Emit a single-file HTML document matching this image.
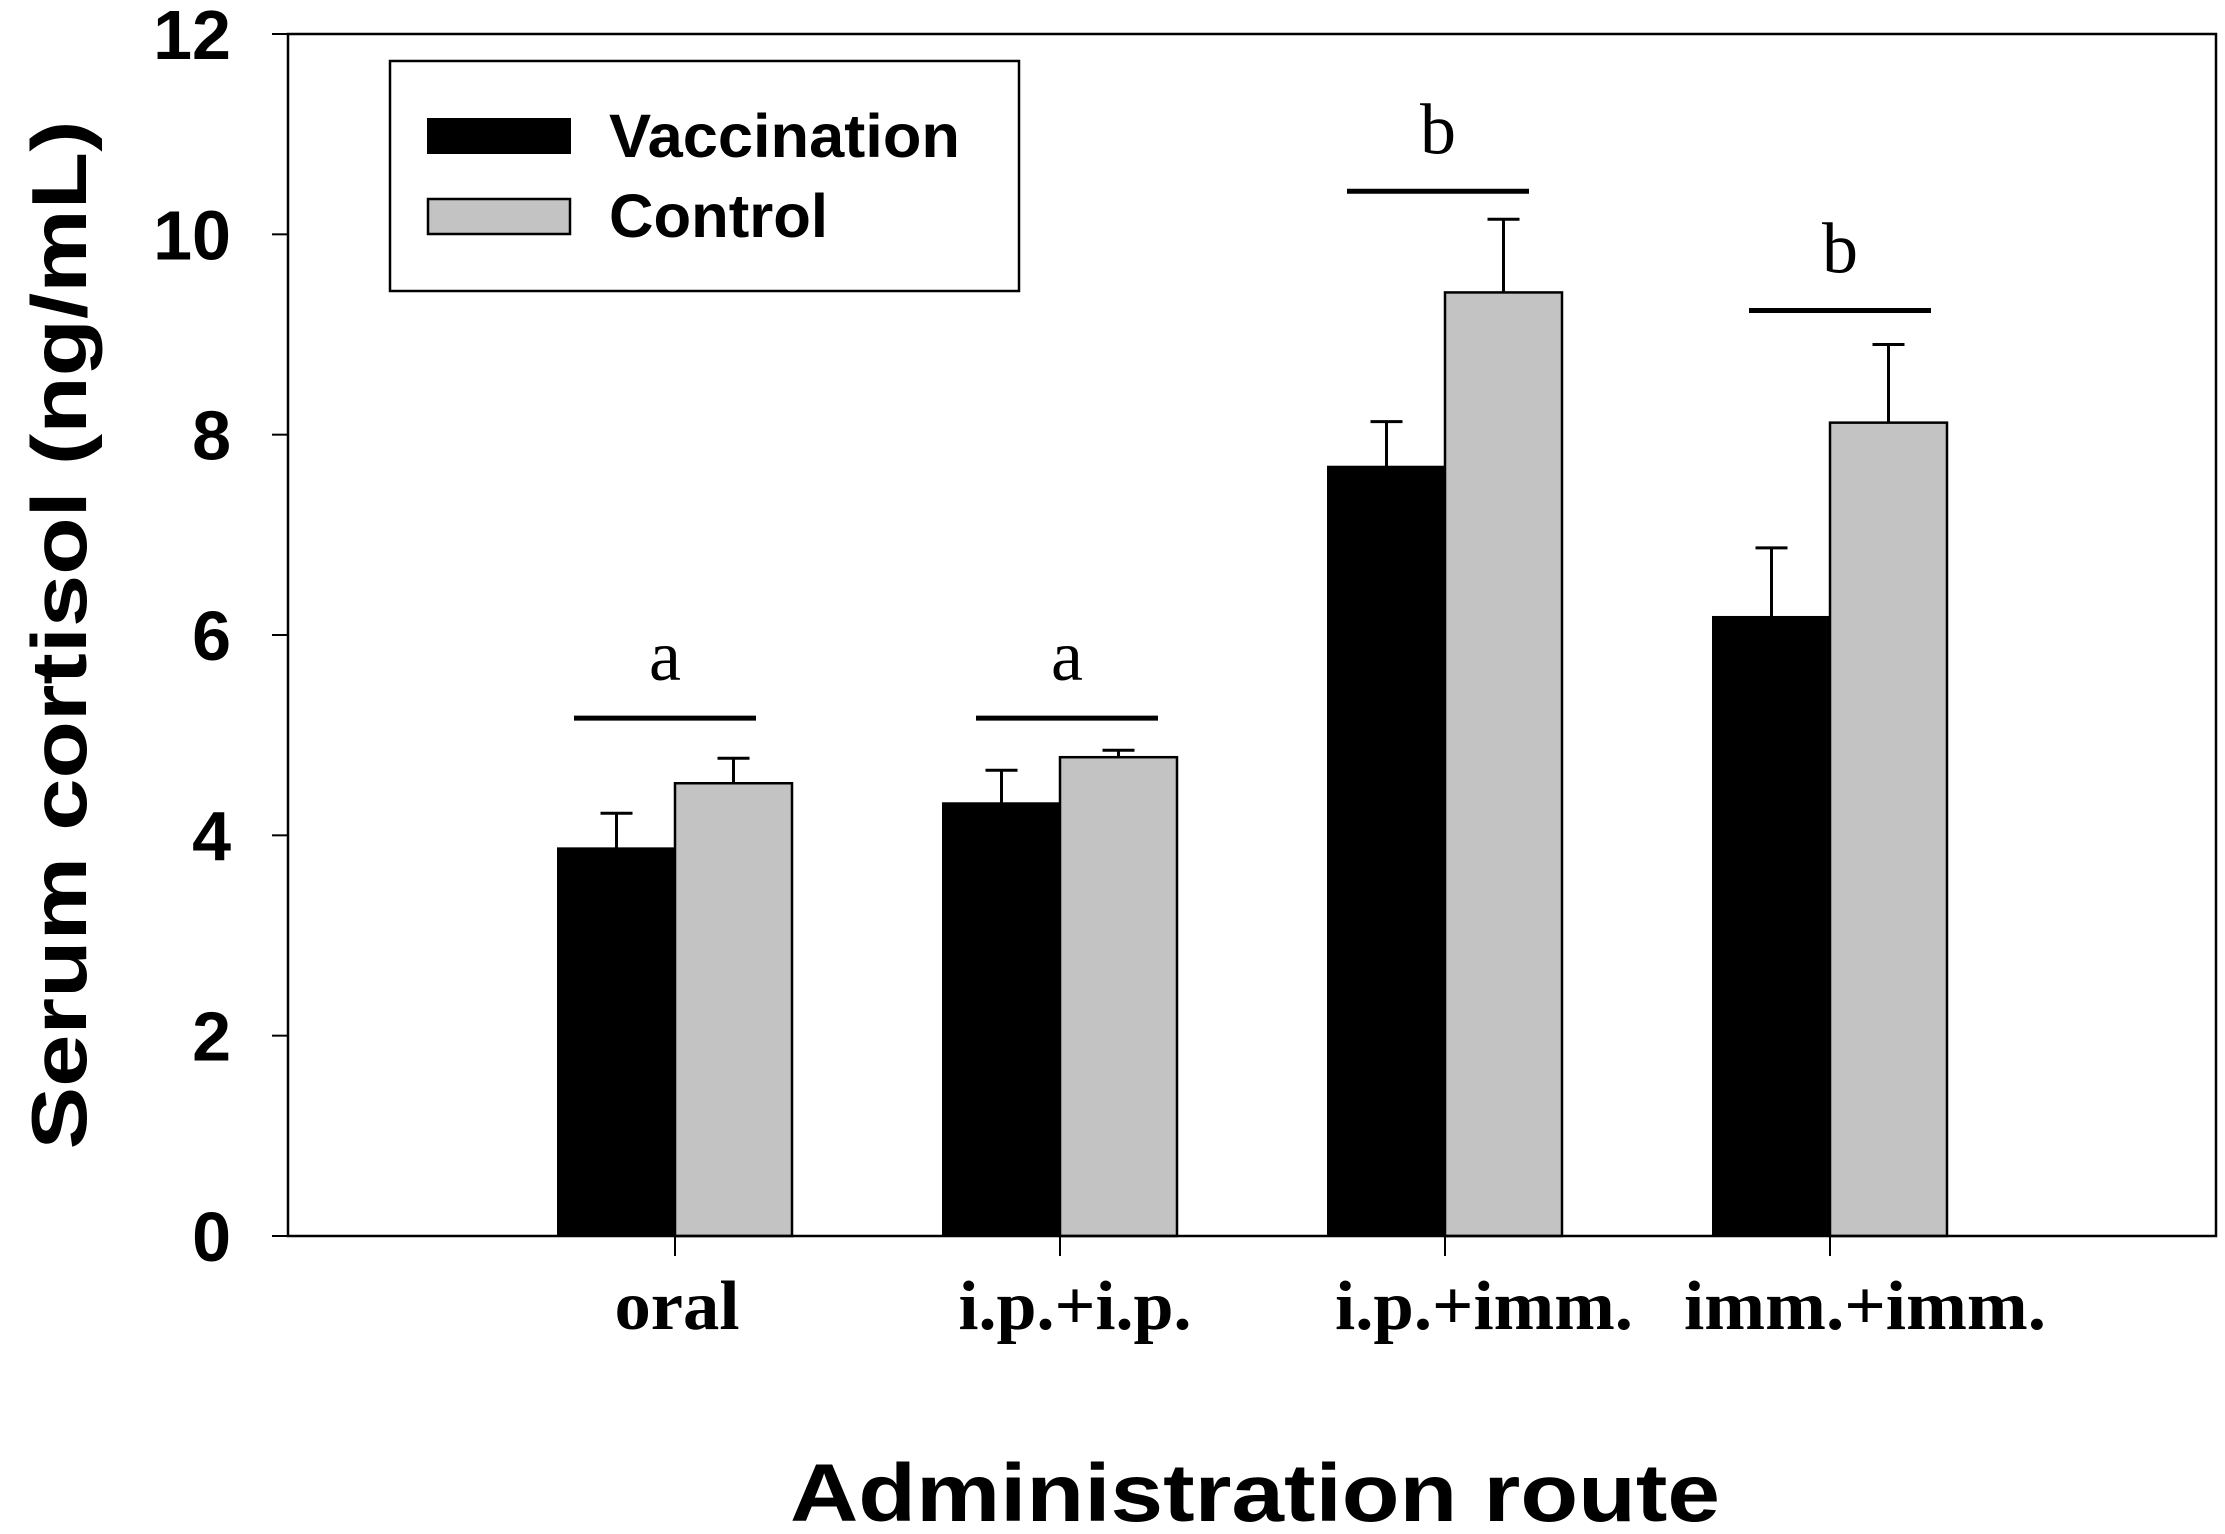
<!DOCTYPE html>
<html><head><meta charset="utf-8"><style>body{margin:0;background:#fff}svg{display:block}</style></head>
<body>
<svg id="chart" width="2225" height="1534" xmlns="http://www.w3.org/2000/svg">
<g id="plot"></g>
</svg>
<script>
const categories = ["oral", "i.p.+i.p.", "i.p.+imm.", "imm.+imm."];
const vaccination = [3.87, 4.32, 7.68, 6.18];
const vaccinationErr = [0.35, 0.33, 0.45, 0.69];
const control = [4.52, 4.78, 9.42, 8.12];
const controlErr = [0.25, 0.07, 0.73, 0.78];
const sigLetters = ["a", "a", "b", "b"];
const sigLevels = [5.17, 5.17, 10.43, 9.24];
const yTicks = [0, 2, 4, 6, 8, 10, 12];

const NS = "http://www.w3.org/2000/svg";
const L = 288, R = 2216, T = 34, B = 1236;
const yMax = 12;
const y = v => B - (v / yMax) * (B - T);
const groupX = i => 675 + i * 385;
const barW = 117;
const sigShift = [-10, 7, -7, 10];
const labelShift = [2, 15, 39, 35];
const labelLen = [125, 233, 298, 362];
const g = document.getElementById('plot');
function mk(tag, attrs, parent) {
  const e = document.createElementNS(NS, tag);
  for (const k in attrs) e.setAttribute(k, attrs[k]);
  (parent || g).appendChild(e);
  return e;
}

categories.forEach((c, i) => {
  const cx = groupX(i);
  const vb = mk('rect', {x: cx - barW, y: y(vaccination[i]), width: barW, height: B - y(vaccination[i]), fill: '#000', stroke: '#000', 'stroke-width': 2});
  
  
  const cb = mk('rect', {x: cx, y: y(control[i]), width: barW, height: B - y(control[i]), fill: '#c3c3c3', stroke: '#000', 'stroke-width': 2.5});
  
  
  [[cx - barW / 2, vaccination[i], vaccinationErr[i], 'vaccination'], [cx + barW / 2, control[i], controlErr[i], 'control']].forEach(([ex, v, e, s]) => {
    const eg = mk('path', {d: `M${ex},${y(v)}V${y(v + e)}M${ex - 16},${y(v + e)}H${ex + 16}`, stroke: '#000', 'stroke-width': 3, fill: 'none'});
    
    
  });
  const sc = cx + sigShift[i];
  const sl = mk('line', {x1: sc - 91, x2: sc + 91, y1: y(sigLevels[i]), y2: y(sigLevels[i]), stroke: '#000', 'stroke-width': 5});
  
  
  const st = mk('text', {x: sc, y: y(sigLevels[i]) - 38, 'text-anchor': 'middle', 'font-family': 'Liberation Serif, serif', 'font-size': 72});
  st.textContent = sigLetters[i];
  
  
  const xt = mk('line', {x1: cx, x2: cx, y1: B, y2: B + 20, stroke: '#000', 'stroke-width': 2});
  
  
  const xl = mk('text', {x: cx + labelShift[i], y: 1329, 'text-anchor': 'middle', 'font-family': 'Liberation Serif, serif', 'font-weight': 'bold', 'font-size': 70, textLength: labelLen[i], lengthAdjust: 'spacingAndGlyphs'});
  xl.textContent = c;
  
  
});

yTicks.forEach(t => {
  const tl = mk('line', {x1: L - 16, x2: L, y1: y(t), y2: y(t), stroke: '#000', 'stroke-width': 2});
  
  
  const tx = mk('text', {x: 231, y: y(t) + 25, 'text-anchor': 'end', 'font-family': 'Liberation Sans, sans-serif', 'font-weight': 'bold', 'font-size': 70});
  tx.textContent = t;
  
  
});

const fr = mk('rect', {x: L, y: T, width: R - L, height: B - T, fill: 'none', stroke: '#000', 'stroke-width': 2.5});


</script>
<script>
(function(){
  const svg = document.getElementById('chart');
  const NS = "http://www.w3.org/2000/svg";
  function mk(tag, attrs) { const e = document.createElementNS(NS, tag); for (const k in attrs) e.setAttribute(k, attrs[k]); svg.appendChild(e); return e; }
  const box = mk('rect', {x: 390, y: 61, width: 629, height: 230, fill: '#fff', stroke: '#000', 'stroke-width': 2.5});
  
  
  const s1 = mk('rect', {x: 428, y: 119, width: 142, height: 34, fill: '#000', stroke: '#000', 'stroke-width': 2});
  
  
  const s2 = mk('rect', {x: 428, y: 199, width: 142, height: 35, fill: '#c3c3c3', stroke: '#000', 'stroke-width': 2.5});
  
  
  const t1 = mk('text', {x: 609, y: 157, 'font-family': 'Liberation Sans, sans-serif', 'font-weight': 'bold', 'font-size': 61, textLength: 351, lengthAdjust: 'spacingAndGlyphs'});
  t1.textContent = 'Vaccination';
  
  
  const t2 = mk('text', {x: 609, y: 237, 'font-family': 'Liberation Sans, sans-serif', 'font-weight': 'bold', 'font-size': 61, textLength: 219, lengthAdjust: 'spacingAndGlyphs'});
  t2.textContent = 'Control';
  
  
  const yt = mk('text', {x: 0, y: 0, transform: 'translate(86,635) rotate(-90)', 'text-anchor': 'middle', 'font-family': 'Liberation Sans, sans-serif', 'font-weight': 'bold', 'font-size': 78, textLength: 1029, lengthAdjust: 'spacingAndGlyphs'});
  yt.textContent = 'Serum cortisol (ng/mL)';
  
  
  const xt = mk('text', {x: 1255, y: 1521, 'text-anchor': 'middle', 'font-family': 'Liberation Sans, sans-serif', 'font-weight': 'bold', 'font-size': 82, textLength: 930, lengthAdjust: 'spacingAndGlyphs'});
  xt.textContent = 'Administration route';
  
  
})();
</script>
</body></html>
